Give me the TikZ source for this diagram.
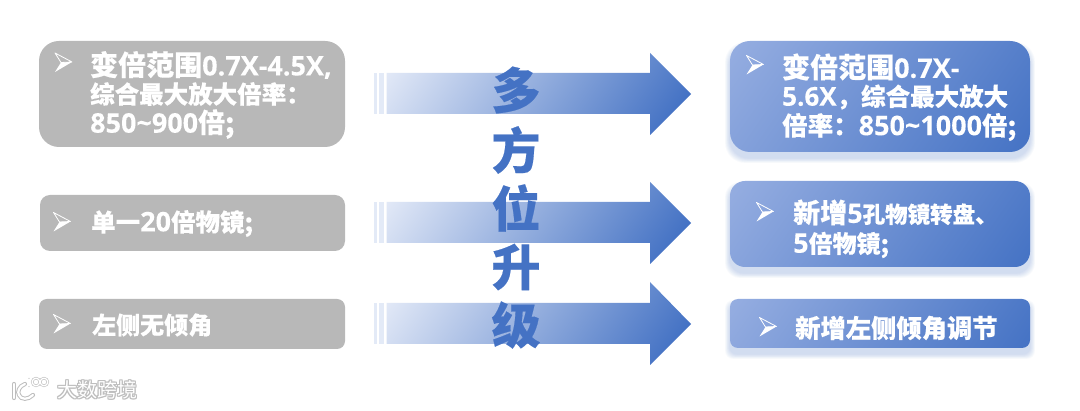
\documentclass[tikz,border=0pt]{standalone}
\usepackage{fontspec}
\setmainfont[BoldFeatures={FakeBold=0.35}]{Noto Sans CJK SC}
\newfontfamily\latfont[BoldFeatures={FakeBold=0.1}]{Open Sans}
\usetikzlibrary{shadings,calc}
\definecolor{greybox}{HTML}{B8B8B8}
\definecolor{blueA}{HTML}{96AEE1}
\definecolor{blueB}{HTML}{4472C4}
\definecolor{arrowA}{HTML}{E9EEF9}
\definecolor{stripe}{HTML}{E3EAF7}
\definecolor{wmgrey}{HTML}{BEBEBE}
\pgfdeclareverticalshading{boxgrad}{100bp}{color(0bp)=(blueB); color(15bp)=(blueB); color(85bp)=(blueA); color(100bp)=(blueA)}
\pgfdeclareverticalshading{arrowgrad}{100bp}{color(0bp)=(blueB); color(21bp)=(blueB); color(85bp)=(arrowA); color(100bp)=(arrowA)}
\newcommand{\fs}[1]{\fontsize{#1pt}{#1pt}\selectfont\bfseries}
\newcommand{\lat}[2]{{\latfont\fontsize{#1pt}{#1pt}\selectfont\bfseries #2}}
\newcommand{\softshadow}[5]{% x1,y1,x2,y2,r
  \foreach \i in {1,...,7}{
    \fill[blueB,opacity=.035,rounded corners=#5pt]
      (#1-\i*.7,#2+6-\i*.7) rectangle (#3+\i*.7,#4+6+\i*.7);
  }}
\newcommand{\wmtext}[3]{% x,y,text
  \foreach \dx/\dy in {-1/0,1/0,0/-1,0/1,-.7/-.7,.7/.7,-.7/.7,.7/-.7}{
    \node[wm,text=wmgrey] at (#1+\dx,#2+\dy) {#3};
  }}
\newcommand{\bulletglyph}[1]{%
  \draw[white,line width=.8pt,line join=round] ($(#1)+(-8.5,-9.5)$) -- ($(#1)+(8.5,-.5)$) -- ($(#1)+(-2.5,0)$) -- cycle;
  \fill[white] ($(#1)+(-2.5,0)$) -- ($(#1)+(8.5,-.5)$) -- ($(#1)+(-8.5,9.5)$) -- cycle;
}
\tikzset{
  x=1pt,y=-1pt,
  anyb/.style={inner sep=0pt,outer sep=0pt,rectangle},
  greyb/.style={anyb,fill=greybox},
  blueb/.style={anyb,shade,shading=boxgrad,shading angle=55},
  txt/.style={text=white,anchor=west,inner sep=0pt,align=left},
  arrowfill/.style={shade,shading=arrowgrad,shading angle=55},
  big/.style={text=blueB,inner sep=0pt,font=\fs{49}},
  wm/.style={inner sep=0pt,font=\fontsize{20pt}{20pt}\selectfont}
}
\begin{document}
\begin{tikzpicture}
\useasboundingbox (0,0) rectangle (1080,411);
\fill[white] (0,0) rectangle (1080,411);

% arrows
\foreach \n/\a/\b/\c/\d/\t in {1/73/114/53/135/94, 2/202/243/182/264/223, 3/303/344/282/365/324}{
  \fill[stripe] (374,\a) rectangle (376.5,\b);
  \fill[stripe] (379,\a) rectangle (383.5,\b);
  \path[arrowfill] (386.5,\a) -- (650,\a) -- (650,\c) -- (691,\t) -- (650,\d) -- (650,\b) -- (386.5,\b) -- cycle;
}

% left boxes
\node[greyb,minimum width=306pt,minimum height=106pt,rounded corners=20pt] (l1) at (192,94) {};
\node[greyb,minimum width=305pt,minimum height=56pt,rounded corners=10pt] (l2) at (192.5,223) {};
\node[greyb,minimum width=306pt,minimum height=50pt,rounded corners=8pt] (l3) at (192,324) {};

% right boxes
\softshadow{730}{41}{1030}{152}{20}
\softshadow{730}{181}{1030}{267}{15}
\softshadow{730}{299}{1030}{348}{8}
\node[blueb,minimum width=300pt,minimum height=111pt,rounded corners=20pt] (r1) at (880,96.5) {};
\node[blueb,minimum width=300pt,minimum height=86pt,rounded corners=15pt] (r2) at (880,224) {};
\node[blueb,minimum width=300pt,minimum height=49pt,rounded corners=8pt] (r3) at (880,323.5) {};

% centre title
\node[big] (c1) at (516,90) {多};
\node[big] (c2) at (516,150) {方};
\node[big] (c3) at (516,208) {位};
\node[big] (c4) at (516,267) {升};
\node[big] (c5) at (516,325) {级};

% bullets
\coordinate (bl1) at (63.5,62.5);
\coordinate (bl2) at (62,222);
\coordinate (bl3) at (62,324);
\coordinate (br1) at (755,65);
\coordinate (br2) at (765,212);
\coordinate (br3) at (768,327);
\bulletglyph{bl1}\bulletglyph{bl2}\bulletglyph{bl3}\bulletglyph{br1}\bulletglyph{br2}\bulletglyph{br3}

% texts left
\node[txt,font=\fs{28}] (tl1a) at (90,65) {变倍范围\lat{27}{0.7X-4.5X,}};
\node[txt,font=\fs{24.5}] (tl1b) at (90,94) {综合最大放大倍率：};
\node[txt,font=\fs{27}] (tl1c) at (90,124) {\lat{27}{850\textasciitilde 900}倍;};
\node[txt,font=\fs{24.5}] (tl2) at (91,223.5) {单一\lat{27}{20}倍物镜;};
\node[txt,font=\fs{24}] (tl3) at (92,325) {左侧无倾角};

% texts right
\node[txt,font=\fs{28}] (tr1a) at (782,67) {变倍范围\lat{27}{0.7X-}};
\node[txt,font=\fs{24.5}] (tr1b) at (782,97) {\lat{26}{5.6X}，综合最大放大};
\node[txt,font=\fs{25.5}] (tr1c) at (782,127) {倍率：\lat{27}{850\textasciitilde 1000}倍;};
\node[txt,font=\fs{27}] (tr2a) at (793,212.5) {新增\lat{27}{5}\fontsize{22.5pt}{23pt}\selectfont 孔物镜转盘、};
\node[txt,font=\fs{24}] (tr2b) at (793,245) {\lat{27}{5}倍物镜;};
\node[txt,font=\fs{25.3}] (tr3) at (795,328) {新增左侧倾角调节};

% watermark
\wmtext{97.5}{390}{大数跨境}
\node[wm,text=white] (wmark) at (97.5,390) {大数跨境};
\foreach \col/\w in {wmgrey/4.2,white/2.2}{
  \draw[\col,line width=\w pt,line cap=round] (14,384) -- (14,398);
  \draw[\col,line width=\w pt,line cap=round] (25,384) .. controls (19,386) and (17,392) .. (19,395) .. controls (21,400) and (28,400) .. (33,395);
  \draw[\col,line width=\w*.6 pt,line cap=round] (29,379) -- (29,386);
  \draw[\col,line width=\w*.6 pt] (36,382) circle (3.8);
  \draw[\col,line width=\w*.6 pt] (44,382) circle (3.8);
}
\end{tikzpicture}
\end{document}
